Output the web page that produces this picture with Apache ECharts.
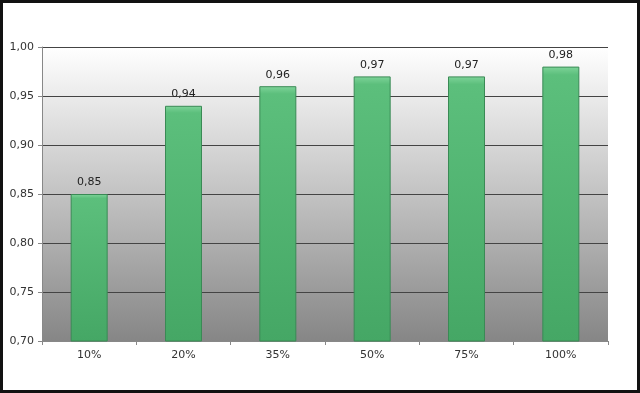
<!DOCTYPE html>
<html>
<head>
<meta charset="utf-8">
<script src="https://cdn.jsdelivr.net/npm/echarts@6/dist/echarts.min.js"></script>
<style>
html,body{margin:0;padding:0;background:#fff;}
#c{width:640px;height:393px;}
</style>
</head>
<body>
<div id="c"></div>
<script>
const categories = ['10%', '20%', '35%', '50%', '75%', '100%'];
const values = [0.85, 0.94, 0.96, 0.97, 0.97, 0.98];
const yMin = 0.70, yMax = 1.00, yStep = 0.05;

const chart = echarts.init(document.getElementById('c'), null, {renderer: 'canvas'});
const fmt = v => v.toFixed(2).replace('.', ',');
chart.setOption({
  animation: false,
  backgroundColor: '#ffffff',
  graphic: [{
    type: 'rect', silent: true, z: 100,
    shape: {x: 1.5, y: 1.5, width: 637, height: 390},
    style: {fill: 'none', stroke: '#111', lineWidth: 3}
  }],
  grid: {
    left: 42, right: 32, top: 47, bottom: 52,
    show: true, borderWidth: 0,
    backgroundColor: new echarts.graphic.LinearGradient(0, 0, 0, 1, [
      {offset: 0, color: '#ffffff'},
      {offset: 1, color: '#868686'}
    ])
  },
  xAxis: {
    type: 'category', data: categories,
    axisLine: {lineStyle: {color: '#888', width: 1}},
    axisTick: {show: true, alignWithLabel: false, length: 4, lineStyle: {color: '#888'}},
    axisLabel: {color: '#333', fontSize: 11, fontFamily: 'DejaVu Sans', margin: 9}
  },
  yAxis: {
    type: 'value', min: yMin, max: yMax, interval: yStep,
    axisLine: {show: true, lineStyle: {color: '#888'}},
    axisTick: {show: true, length: 4, lineStyle: {color: '#888'}},
    splitLine: {lineStyle: {color: '#444', width: 1}},
    axisLabel: {color: '#333', fontSize: 11, fontFamily: 'DejaVu Sans', margin: 8, formatter: fmt}
  },
  series: [{
    type: 'bar', data: values, barWidth: 37,
    itemStyle: {
      color: new echarts.graphic.LinearGradient(0, 0, 0, 1, [
        {offset: 0, color: '#7fd49a'},
        {offset: 0.03, color: '#5cbf7c'},
        {offset: 1, color: '#45a765'}
      ]),
      borderColor: '#3a8a55', borderWidth: 1
    },
    label: {
      show: true, position: 'top', distance: 6,
      color: '#222', fontSize: 11, fontFamily: 'DejaVu Sans',
      formatter: p => fmt(p.value)
    }
  }]
});
</script>
</body>
</html>
